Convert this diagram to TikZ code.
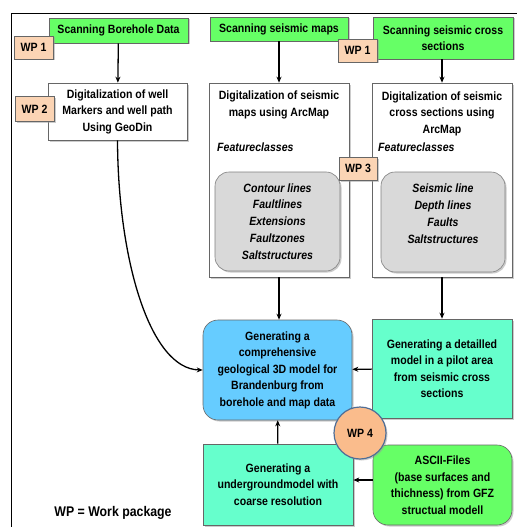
\documentclass[tikz,border=0pt]{standalone}
\usepackage{fontspec}
\setmainfont{Liberation Sans}[FakeStretch=0.88]
\usetikzlibrary{arrows.meta,shadows}
\definecolor{scangreen}{RGB}{102,255,102}
\definecolor{wppeach}{RGB}{251,212,180}
\definecolor{wporange}{RGB}{250,188,140}
\definecolor{wpedge}{RGB}{80,110,150}
\definecolor{modelblue}{RGB}{102,204,255}
\definecolor{modelaqua}{RGB}{102,255,204}
\definecolor{featgray}{RGB}{217,217,217}
\tikzset{
  txt/.style={font=\fontsize{12}{16.5}\selectfont\bfseries, align=center, inner sep=0pt},
  box/.style={txt, draw=gray!80!black, line width=0.6pt, drop shadow={shadow xshift=1.5pt, shadow yshift=-1.5pt, fill=black!40}},
  scanbox/.style={box, fill=scangreen},
  digibox/.style={box, fill=white},
  wpbox/.style={box, fill=wppeach, minimum width=39pt, minimum height=23pt},
  featbox/.style={box, font=\fontsize{12}{16.8}\selectfont\bfseries\itshape, fill=featgray, draw=gray, rounded corners=14pt},
  flow/.style={-{Stealth[length=6pt,width=5pt]}, line width=1.3pt}
}
\begin{document}
\begin{tikzpicture}[x=1pt,y=1pt,yscale=-1]
  \useasboundingbox (0,0) rectangle (517,527);
  \draw[line width=1pt] (11,527) -- (11,13.5) -- (517,13.5);
  \node[scanbox, minimum width=139pt, minimum height=25pt] (scanbore) at (118.5,30.5) {Scanning Borehole Data};
  \node[scanbox, minimum width=138pt, minimum height=24pt] (scanmaps) at (279,29) {Scanning seismic maps};
  \node[scanbox, minimum width=140pt, minimum height=42pt] (scancross) at (443,38) {Scanning seismic cross\\sections};
  \node[digibox, minimum width=139pt, minimum height=57pt] (digibore) at (117.5,111.5) {Digitalization of well\\Markers and well path\\Using GeoDin};
  \node[digibox, minimum width=140pt, minimum height=194pt] (digimaps) at (279,180) {};
  \node[digibox, minimum width=140pt, minimum height=194pt] (digicross) at (442,180) {};
  \node[txt] (mapstitle) at (279,105) {Digitalization of seismic\\maps using ArcMap};
  \node[txt] (crosstitle) at (442,113.5) {Digitalization of seismic\\cross sections using\\ArcMap};
  \node[txt, font=\fontsize{12}{16.5}\selectfont\bfseries\itshape, anchor=west] (mapsfc) at (217,147) {Featureclasses};
  \node[txt, font=\fontsize{12}{16.5}\selectfont\bfseries\itshape, anchor=west] (crossfc) at (378,147) {Featureclasses};
  \node[featbox, minimum width=125pt, minimum height=99pt] (featmaps) at (277.5,221.5) {Contour lines\\Faultlines\\Extensions\\Faultzones\\Saltstructures};
  \node[featbox, minimum width=124pt, minimum height=100pt] (featcross) at (443,222) {Seismic line\\Depth lines\\Faults\\Saltstructures\\\mbox{}};
  \node[box, fill=modelblue, rounded corners=15pt, minimum width=149pt, minimum height=100pt] (model3d) at (277.5,370) {Generating a\\comprehensive\\geological 3D model for\\Brandenburg from\\borehole and map data};
  \node[box, fill=modelaqua, minimum width=140pt, minimum height=99pt] (pilot) at (442,368.5) {Generating a detailled\\model in a pilot area\\from seismic cross\\sections};
  \node[box, fill=modelaqua, minimum width=150pt, minimum height=81pt] (under) at (278,484.5) {Generating a\\undergroundmodel with\\coarse resolution};
  \node[box, fill=scangreen, rounded corners=15pt, minimum width=139pt, minimum height=80pt] (ascii) at (442.5,485) {ASCII-Files\\(base surfaces and\\thichness) from GFZ\\structual modell};
  \node[wpbox] (wp1a) at (33.5,47.5) {WP 1};
  \node[wpbox, minimum height=25pt] (wp2) at (34.5,109) {WP 2};
  \node[wpbox] (wp1b) at (357.5,50.5) {WP 1};
  \node[wpbox, minimum width=38pt] (wp3) at (358,168.5) {WP 3};
  \node[box, circle, fill=wporange, draw=wpedge, line width=1.2pt, minimum size=52pt] (wp4) at (360,433) {WP 4};
  \node[txt, font=\fontsize{14}{17}\selectfont\bfseries] (legend) at (113,513) {WP = Work package};
  \draw[flow] (scanbore) -- (digibore);
  \draw[flow] (scanmaps) -- (scanmaps |- digimaps.north);
  \draw[flow] (scancross.south -| digicross) -- (digicross);
  \draw[flow] (digimaps.south) -- (digimaps.south |- model3d.north);
  \draw[flow] (digicross) -- (pilot);
  \draw[flow] (pilot) -- (model3d);
  \draw[flow] (under) -- (model3d);
  \draw[flow] (ascii.west |- 0,480) -- (under.east |- 0,480);
  \draw[flow] (digibore.south) .. controls (118,260) and (150,369) .. (model3d.west);
\end{tikzpicture}
\end{document}
